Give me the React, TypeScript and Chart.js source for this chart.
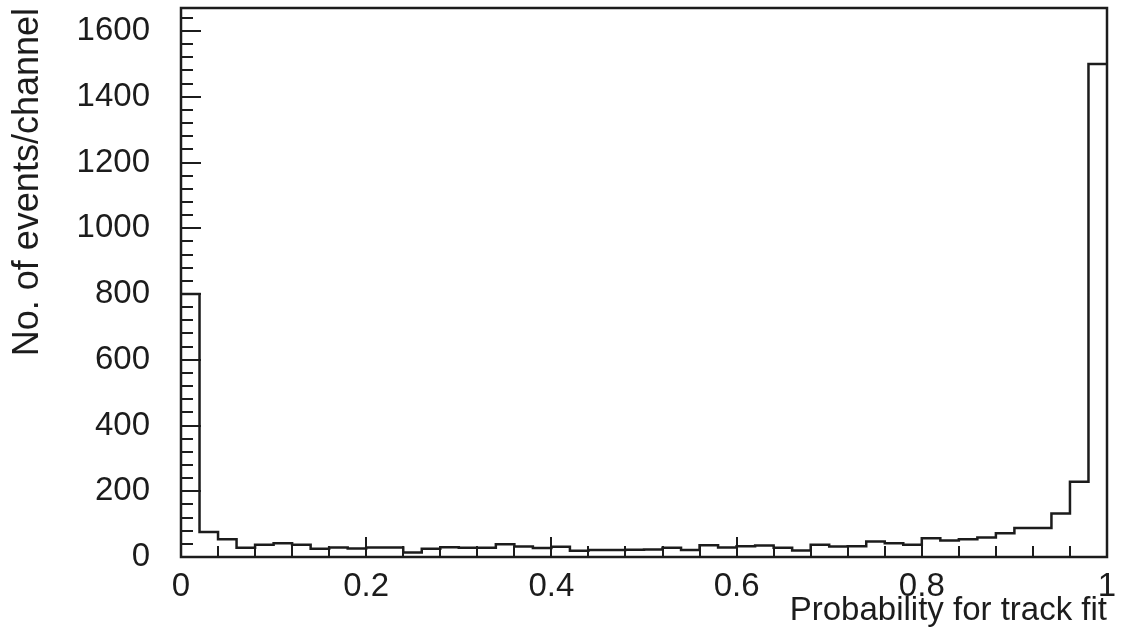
import React, { useEffect, useRef } from "react";
import { Chart, registerables } from "chart.js";

Chart.register(...registerables);

// Histogram: 50 channels of width 0.02 from 0 to 1
const binLow = 0;
const binWidth = 0.02;
const counts = [
  800, 76, 54, 28, 37, 42, 37, 25, 29, 26,
  29, 29, 14, 25, 30, 28, 28, 39, 32, 27,
  31, 19, 21, 21, 22, 23, 28, 21, 36, 29,
  33, 35, 28, 20, 37, 32, 33, 47, 42, 37,
  57, 50, 54, 59, 72, 88, 88, 132, 229, 1500,
];

const xTicks = [0, 0.2, 0.4, 0.6, 0.8, 1];
const xTickLabels = ["0", "0.2", "0.4", "0.6", "0.8", "1"];
const yTicks = [0, 200, 400, 600, 800, 1000, 1200, 1400, 1600];
const yTickLabels = ["0", "200", "400", "600", "800", "1000", "1200", "1400", "1600"];
const xMinorStep = 0.04;
const yMinorStep = 40;
const xMin = 0;
const xMax = 1;
const yMax = 1670;
const xTitle = "Probability for track fit";
const yTitle = "No. of events/channel";

const INK = "#1c1c1c";
const FONT = "'Liberation Sans', Arial, sans-serif";

const frameTicksPlugin = {
  id: "frameTicks",
  afterDatasetsDraw(chart: any) {
    const { ctx, chartArea, scales } = chart;
    const { left, right, top, bottom } = chartArea;
    ctx.save();
    ctx.strokeStyle = INK;
    ctx.lineWidth = 2;
    ctx.lineCap = "butt";
    // y-axis ticks (inside)
    for (let v = 0; v <= yMax + 1e-6; v += yMinorStep) {
      if (v === 0) continue;
      const y = Math.round(scales.y.getPixelForValue(v));
      const major = Math.abs(v / 200 - Math.round(v / 200)) < 1e-6;
      const len = major ? 20 : 12;
      ctx.beginPath();
      ctx.moveTo(left, y);
      ctx.lineTo(left + len, y);
      ctx.stroke();
    }
    // x-axis ticks (inside)
    const nx = Math.round((xMax - xMin) / xMinorStep);
    for (let i = 1; i < nx; i++) {
      const v = xMin + i * xMinorStep;
      const x = Math.round(scales.x.getPixelForValue(v));
      const major = i % 5 === 0;
      const len = major ? 20 : 11;
      ctx.beginPath();
      ctx.moveTo(x, bottom);
      ctx.lineTo(x, bottom - len);
      ctx.stroke();
    }
    // frame
    ctx.lineWidth = 2.5;
    ctx.strokeRect(left, top, right - left, bottom - top);
    ctx.restore();
  },
};

export default function App() {
  const canvasRef = useRef<HTMLCanvasElement | null>(null);

  useEffect(() => {
    const canvas = canvasRef.current;
    if (!canvas) return;
    const points = counts.map((c, i) => ({ x: binLow + i * binWidth, y: c }));
    points.push({ x: binLow + counts.length * binWidth, y: counts[counts.length - 1] });

    const chart = new Chart(canvas, {
      type: "line",
      data: {
        datasets: [
          {
            data: points,
            stepped: "before",
            borderColor: INK,
            borderWidth: 2.5,
            pointRadius: 0,
            fill: false,
            tension: 0,
          } as any,
        ],
      },
      options: {
        animation: false,
        responsive: false,
        devicePixelRatio: 1,
        layout: { padding: { top: 8, right: 18, left: 0, bottom: 0 } },
        plugins: {
          legend: { display: false },
          tooltip: { enabled: false },
        },
        scales: {
          x: {
            type: "linear",
            min: xMin,
            max: xMax,
            grid: { display: false, drawTicks: false },
            border: { display: false },
            afterBuildTicks: (s: any) => {
              s.ticks = xTicks.map((v) => ({ value: v }));
            },
            afterFit: (s: any) => {
              s.height = 75;
              s.paddingLeft = 0;
              s.paddingRight = 0;
              s.paddingTop = 0;
              s.paddingBottom = 0;
            },
            ticks: {
              autoSkip: false,
              maxRotation: 0,
              padding: 10,
              color: INK,
              font: { family: FONT, size: 33 },
              callback: (_v: any, i: number) => xTickLabels[i],
            },
            title: {
              display: true,
              text: xTitle,
              align: "end",
              color: INK,
              font: { family: FONT, size: 33 },
              padding: { top: 0, bottom: 1 },
            },
          },
          y: {
            type: "linear",
            min: 0,
            max: yMax,
            grid: { display: false, drawTicks: false },
            border: { display: false },
            afterBuildTicks: (s: any) => {
              s.ticks = yTicks.map((v) => ({ value: v }));
            },
            afterFit: (s: any) => {
              s.width = 181;
              s.paddingLeft = 0;
              s.paddingRight = 0;
              s.paddingTop = 0;
              s.paddingBottom = 0;
            },
            ticks: {
              autoSkip: false,
              padding: 31,
              color: INK,
              font: { family: FONT, size: 33 },
              callback: (_v: any, i: number) => yTickLabels[i],
            },
            title: {
              display: true,
              text: yTitle,
              align: "end",
              color: INK,
              font: { family: FONT, size: 36 },
              padding: { top: 6, bottom: 0 },
            },
          },
        },
      } as any,
      plugins: [frameTicksPlugin],
    });
    return () => chart.destroy();
  }, []);

  return (
    <div style={{ position: "fixed", left: 0, top: 0, width: 1125, height: 632, background: "#fff" }}>
      <canvas ref={canvasRef} width={1125} height={632} style={{ width: 1125, height: 632, display: "block" }} />
    </div>
  );
}
